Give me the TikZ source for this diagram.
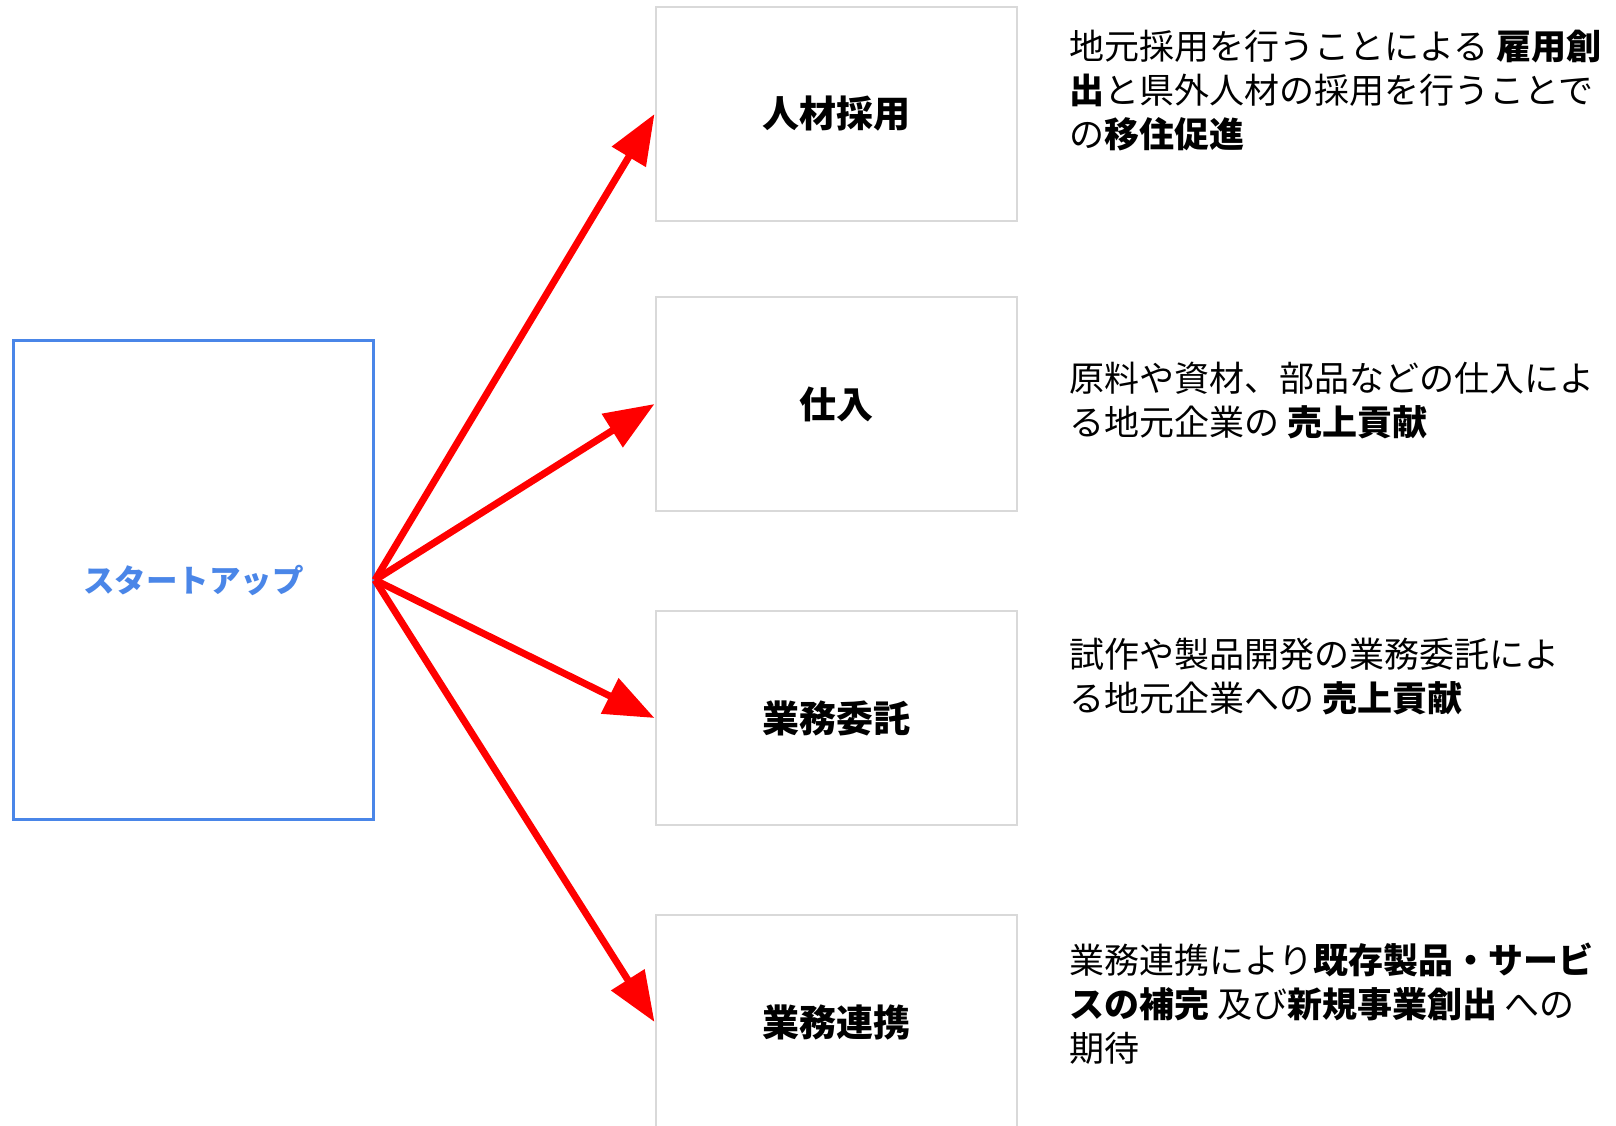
\documentclass[tikz,border=0pt]{standalone}
\usepackage{fontspec}
\setmainfont{Noto Sans CJK JP}
\usetikzlibrary{arrows.meta}
\definecolor{gblue}{HTML}{4A86E8}
\definecolor{lgray}{HTML}{D9D9D9}
\definecolor{ared}{HTML}{FF0000}
\begin{document}
\begin{tikzpicture}[x=1pt,y=-1pt,
  sbox/.style={draw=gblue,line width=3pt,minimum width=360.5pt,minimum height=479pt,inner sep=0pt,anchor=north west,
    text=gblue,font=\fontsize{31.5}{36}\selectfont\bfseries},
  gbox/.style={draw=lgray,line width=2pt,minimum width=361pt,minimum height=214pt,inner sep=0pt,anchor=north west,
    font=\fontsize{37}{40}\selectfont\bfseries},
  txt/.style={anchor=base west,inner sep=0pt,font=\fontsize{35}{44}\selectfont},
  arr/.style={draw=ared,line width=7pt,-{Triangle[length=50pt,width=38pt]}}]
\useasboundingbox (0,0) rectangle (1616,1126);
\fill[white] (0,0) rectangle (1616,1126);
\node[sbox] (su) at (11.5,339) {スタートアップ};
\node[gbox] (b1) at (654.5,6) {人材採用};
\node[gbox] (b2) at (654.5,296) {仕入};
\node[gbox] (b3) at (654.5,610) {業務委託};
\node[gbox] (b4) at (654.5,914) {業務連携};
\draw[arr] (su.east) -- (b1.west);
\draw[arr] (su.east) -- (b2.west);
\draw[arr] (su.east) -- (b3.west);
\draw[arr] (su.east) -- (b4.west);
\node[txt] (t1a) at (1069,59.5) {地元採用を行うことによる \textbf{雇用創}};
\node[txt] (t1b) at (1069,103.5) {\textbf{出}と県外人材の採用を行うことで};
\node[txt] (t1c) at (1069,147.5) {の\textbf{移住促進}};
\node[txt] (t2a) at (1069,391) {原料や資材、部品などの仕入によ};
\node[txt] (t2b) at (1069,435) {る地元企業の \textbf{売上貢献}};
\node[txt] (t3a) at (1069,667) {試作や製品開発の業務委託によ};
\node[txt] (t3b) at (1069,711.5) {る地元企業への \textbf{売上貢献}};
\node[txt] (t4a) at (1069,973) {業務連携により\textbf{既存製品・サービ}};
\node[txt] (t4b) at (1069,1017) {\textbf{スの補完} 及び\textbf{新規事業創出} への};
\node[txt] (t4c) at (1069,1061.5) {期待};
\end{tikzpicture}
\end{document}
